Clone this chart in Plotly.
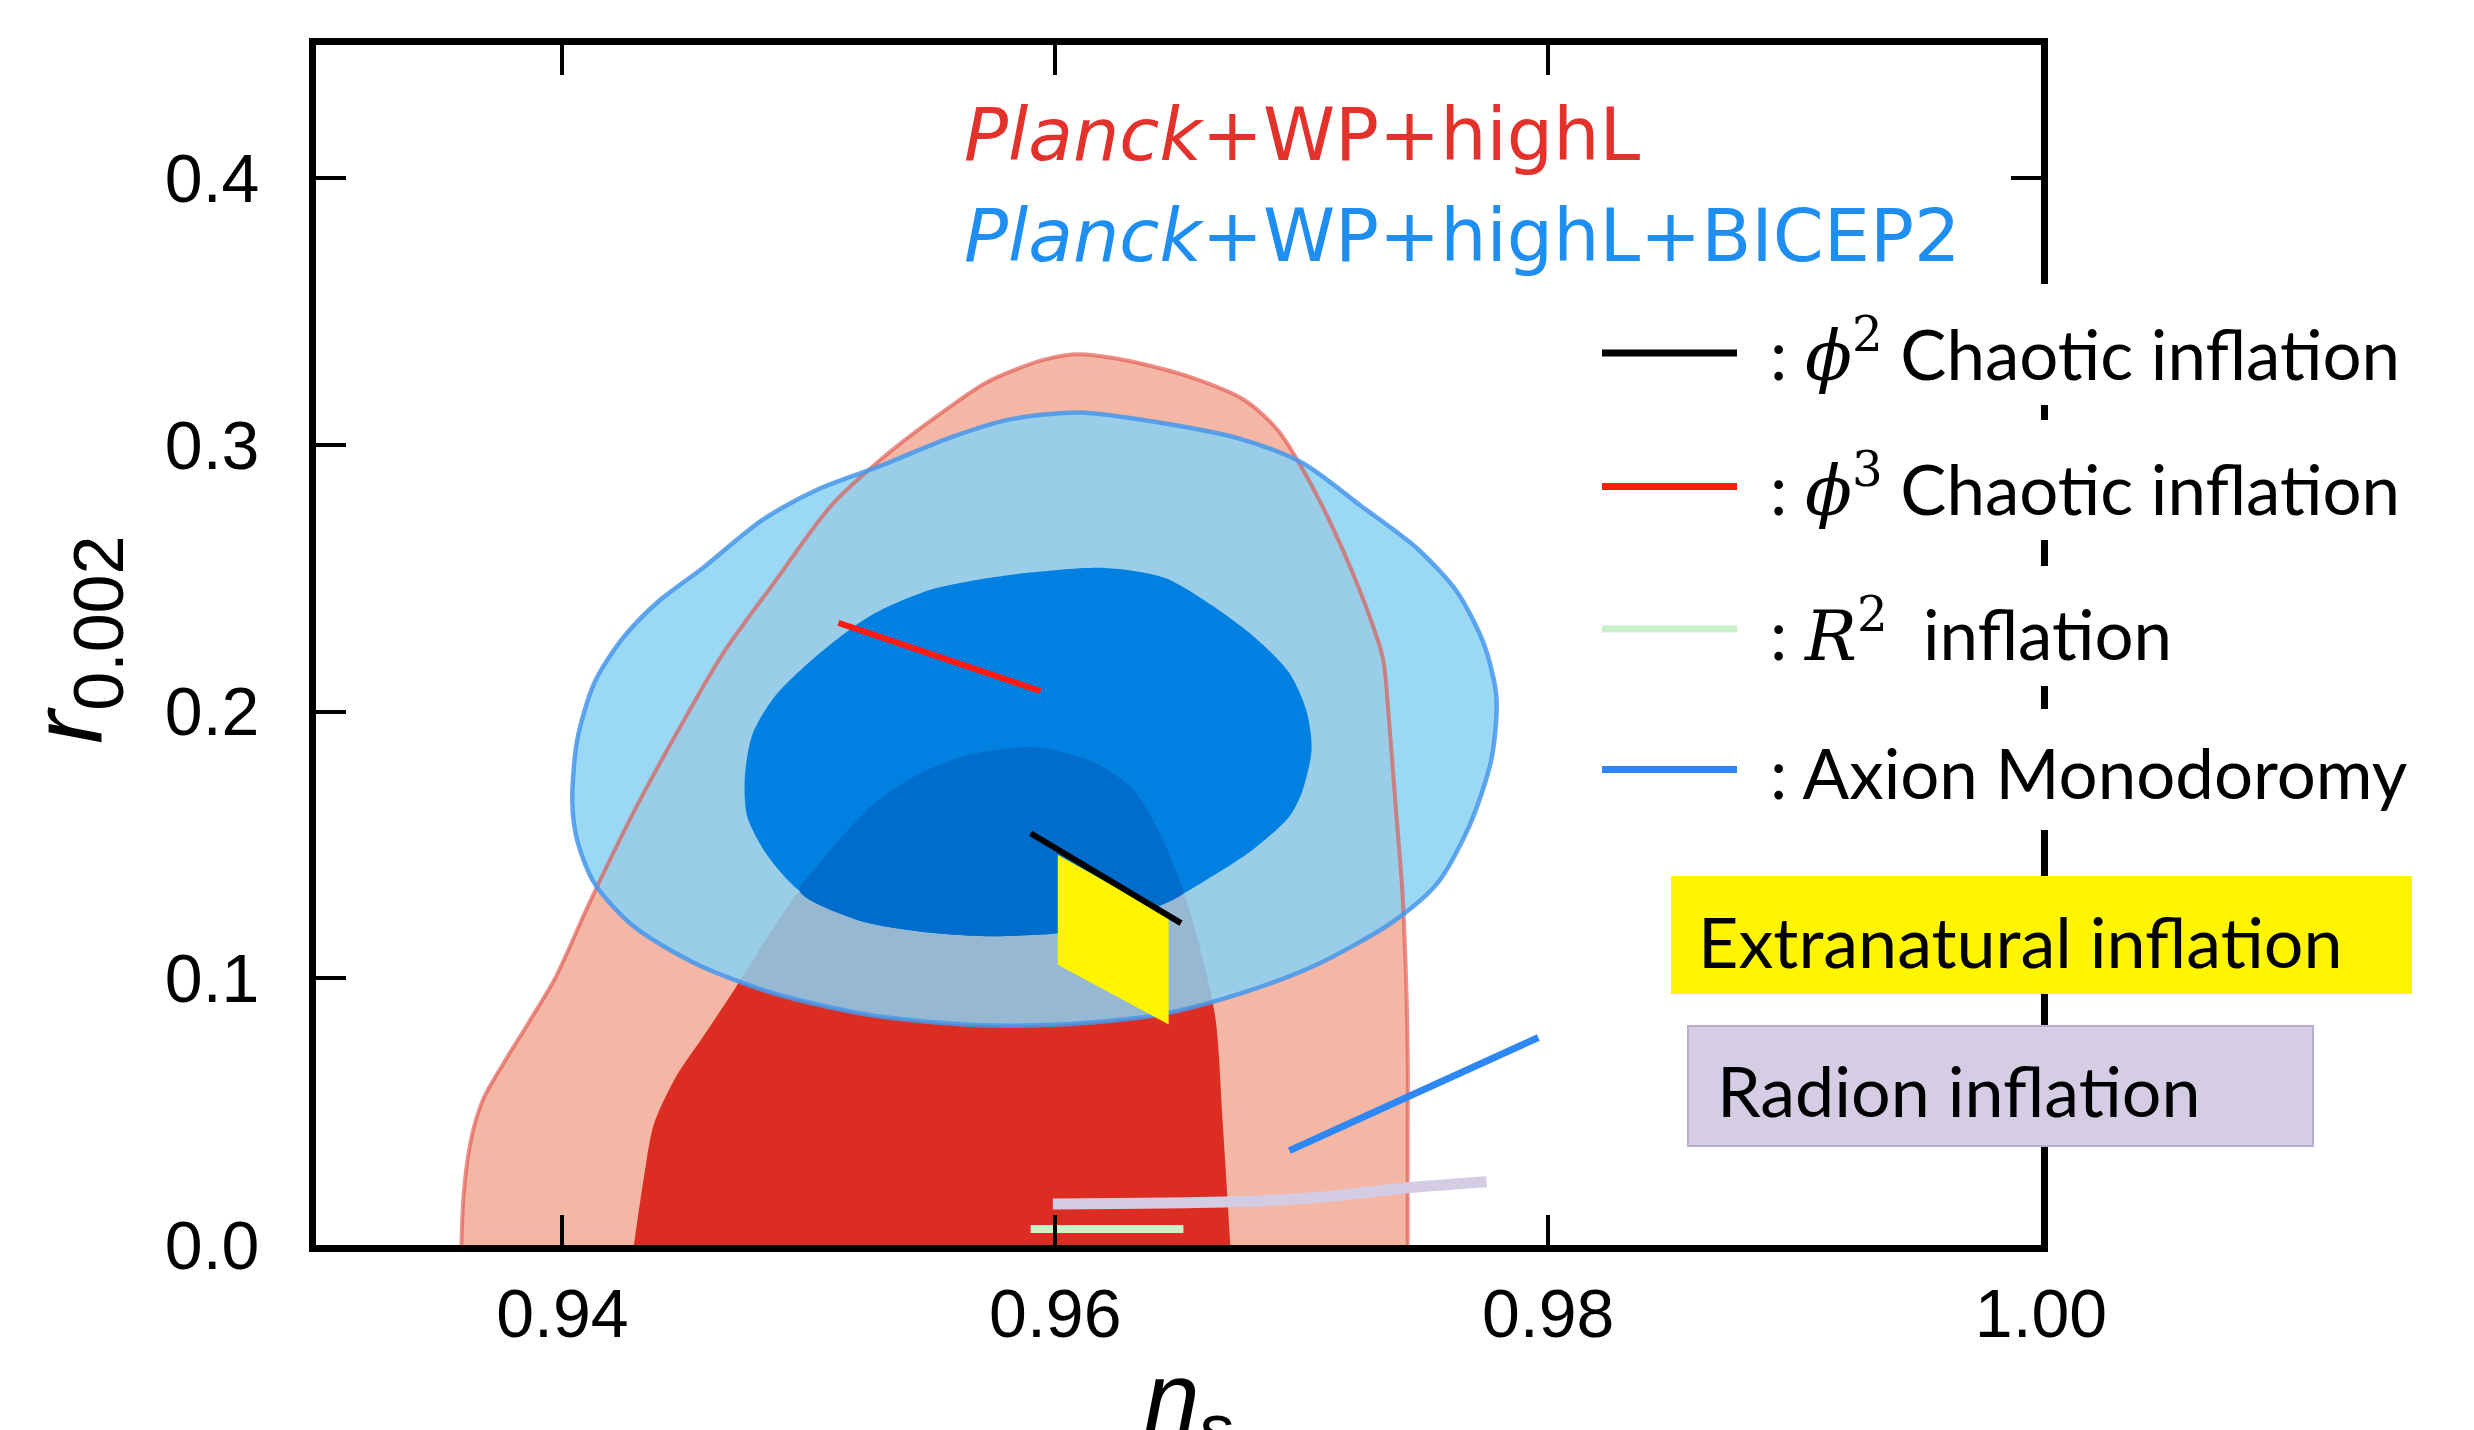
import plotly.graph_objects as go

# ---------------- data ----------------
x_ticks = [0.94, 0.96, 0.98, 1.00]
x_ticklabels = ["0.94", "0.96", "0.98", "1.00"]
y_ticks = [0.0, 0.1, 0.2, 0.3, 0.4]
y_ticklabels = ["0.0", "0.1", "0.2", "0.3", "0.4"]

# Planck+WP+highL 95% contour
red95_x = [0.9359, 0.9360, 0.9363, 0.9368, 0.9376, 0.9386, 0.9397, 0.9411, 0.9429, 0.9447, 0.9465,
           0.9486, 0.9509, 0.9530, 0.9550, 0.9571, 0.9585, 0.9596, 0.9608, 0.9628, 0.9654, 0.9677,
           0.9690, 0.9700, 0.9713, 0.9726, 0.9733, 0.9735, 0.9738, 0.9741, 0.9743, 0.9743, 0.9743]
red95_y = [0.0, 0.020, 0.040, 0.055, 0.068, 0.083, 0.100, 0.1284, 0.1625, 0.1930, 0.2216,
           0.2485, 0.2772, 0.2952, 0.3095, 0.3229, 0.3287, 0.3321, 0.3340, 0.3319, 0.3257, 0.3167,
           0.3059, 0.2916, 0.2682, 0.2396, 0.2198, 0.2019, 0.1661, 0.1302, 0.0732, 0.040, 0.0]

# Planck+WP+highL 68% contour
red68_x = [0.9429, 0.9433, 0.9437, 0.9446, 0.9457, 0.9470, 0.9486, 0.9504, 0.9525, 0.9545,
           0.9566, 0.9592, 0.9615, 0.9631, 0.9641, 0.9651, 0.9659, 0.9665, 0.9668, 0.9671]
red68_y = [0.0, 0.025, 0.045, 0.063, 0.078, 0.0961, 0.1194, 0.1427, 0.1643, 0.1768,
           0.1840, 0.1867, 0.1813, 0.1714, 0.1571, 0.1356, 0.1105, 0.085, 0.045, 0.0]

# Planck+WP+highL+BICEP2 95% contour
blue95_x = [0.9404, 0.9406, 0.9413, 0.9424, 0.9439, 0.9457, 0.9481, 0.9504, 0.9530, 0.9556,
            0.9581, 0.9610, 0.9641, 0.9675, 0.9700, 0.9724, 0.9747, 0.9763, 0.9774, 0.9779,
            0.9777, 0.9768, 0.9755, 0.9737, 0.9706, 0.9675, 0.9641, 0.9602, 0.9563, 0.9525,
            0.9486, 0.9455, 0.9429, 0.9413, 0.9406]
blue95_y = [0.1661, 0.1894, 0.2109, 0.2270, 0.2414, 0.2539, 0.2718, 0.2835, 0.2925, 0.3023,
            0.3095, 0.3122, 0.3086, 0.3023, 0.2934, 0.2772, 0.2611, 0.2450, 0.2252, 0.2055,
            0.1822, 0.1571, 0.1356, 0.1212, 0.1051, 0.0943, 0.0862, 0.0827, 0.0827, 0.0862,
            0.0943, 0.1051, 0.1194, 0.1356, 0.1517]

# Planck+WP+highL+BICEP2 68% contour
blue68_x = [0.9474, 0.9477, 0.9486, 0.9504, 0.9525, 0.9550, 0.9581, 0.9620, 0.9644, 0.9664,
            0.9682, 0.9695, 0.9702, 0.9704, 0.9700, 0.9695, 0.9680, 0.9659, 0.9641, 0.9615,
            0.9576, 0.9545, 0.9519, 0.9496, 0.9483, 0.9475]
blue68_y = [0.1750, 0.1912, 0.2055, 0.2216, 0.2360, 0.2459, 0.2512, 0.2539, 0.2503, 0.2396,
            0.2270, 0.2145, 0.2001, 0.1858, 0.1696, 0.1607, 0.1481, 0.1356, 0.1266, 0.1185,
            0.1158, 0.1176, 0.1221, 0.1329, 0.1463, 0.1607]

# model predictions
phi3_x = [0.9512, 0.9594]
phi3_y = [0.2333, 0.2077]
phi2_x = [0.9590, 0.9651]
phi2_y = [0.1544, 0.1207]
r2_x = [0.9590, 0.9652]
r2_y = [0.0060, 0.0060]
axion_x = [0.9695, 0.9796]
axion_y = [0.0354, 0.0778]
radion_x = [0.9599, 0.9671, 0.9710, 0.9741, 0.9775]
radion_y = [0.0154, 0.0162, 0.0181, 0.0213, 0.0237]
extranat_x = [0.9601, 0.9646, 0.9646, 0.9601]
extranat_y = [0.1463, 0.1230, 0.0827, 0.1051]

legend_labels = [
    ': <span style="font-family:DejaVu Serif"><i>ϕ</i><sup>2</sup></span> Chaotic inflation',
    ': <span style="font-family:DejaVu Serif"><i>ϕ</i><sup>3</sup></span> Chaotic inflation',
    ': <span style="font-family:DejaVu Serif"><i>R</i><sup>2</sup></span>  inflation',
    ': Axion Monodoromy',
]
legend_colors = ["#000000", "#ff1a12", "#c9efc6", "#2d87f5"]

# ---------------- helpers ----------------
W, H = 2474, 1430
OFF = 8  # default page body margin of the html page
ML, MR, MT, MB = 308, 441, 37, 193


def px(X):
    """screen pixel x -> paper coordinate"""
    return (X - OFF - ML) / (W - ML - MR)


def py(Y):
    """screen pixel y -> paper coordinate"""
    return (H - MB - (Y - OFF)) / (H - MT - MB)


def clip_polygon(subject, clipper):
    """Sutherland-Hodgman clip of subject polygon by (near) convex clipper."""
    def area(p):
        return sum(p[i][0] * p[(i + 1) % len(p)][1] - p[(i + 1) % len(p)][0] * p[i][1]
                   for i in range(len(p)))
    if area(clipper) < 0:
        clipper = clipper[::-1]
    out = list(subject)
    n = len(clipper)
    for i in range(n):
        A = clipper[i]
        B = clipper[(i + 1) % n]
        inp = out
        out = []
        if not inp:
            break

        def inside(P):
            return (B[0] - A[0]) * (P[1] - A[1]) - (B[1] - A[1]) * (P[0] - A[0]) >= 0

        def inter(S, E):
            x1, y1 = S
            x2, y2 = E
            x3, y3 = A
            x4, y4 = B
            den = (x1 - x2) * (y3 - y4) - (y1 - y2) * (x3 - x4)
            t = ((x1 - x3) * (y3 - y4) - (y1 - y3) * (x3 - x4)) / den
            return (x1 + t * (x2 - x1), y1 + t * (y2 - y1))

        S = inp[-1]
        for E in inp:
            if inside(E):
                if not inside(S):
                    out.append(inter(S, E))
                out.append(E)
            elif inside(S):
                out.append(inter(S, E))
            S = E
    return out


fig = go.Figure()


def add_fill(xs, ys, color, closed=True, shape="spline"):
    xx, yy = list(xs), list(ys)
    if closed:
        xx.append(xs[0])
        yy.append(ys[0])
    fig.add_trace(go.Scatter(x=xx, y=yy, mode="lines",
                             fill="toself", fillcolor=color,
                             line=dict(width=0, color="rgba(0,0,0,0)", shape=shape, smoothing=0.8),
                             hoverinfo="skip", showlegend=False))


def add_line(xs, ys, color, width, closed=False, shape="linear"):
    xx, yy = list(xs), list(ys)
    if closed:
        xx.append(xs[0])
        yy.append(ys[0])
    fig.add_trace(go.Scatter(x=xx, y=yy, mode="lines",
                             line=dict(color=color, width=width, shape=shape, smoothing=0.8),
                             hoverinfo="skip", showlegend=False))


# contours
add_fill(red95_x, red95_y, "#f5b7a5", closed=False)
add_fill(red68_x, red68_y, "#dc2d23", closed=False)
add_fill(blue95_x, blue95_y, "rgba(138,209,242,0.85)")
add_fill(blue68_x, blue68_y, "#0080e0")
inter_poly = clip_polygon(list(zip(red68_x, red68_y)), list(zip(blue68_x, blue68_y)))
if inter_poly:
    add_fill([p[0] for p in inter_poly], [p[1] for p in inter_poly], "#006ccc")
add_line(red95_x, red95_y, "rgba(225,85,75,0.65)", 4, shape="spline")
add_line(blue95_x, blue95_y, "rgba(70,150,235,0.85)", 4.5, closed=True, shape="spline")

# models
add_fill(extranat_x, extranat_y, "#fff500", shape="linear")
add_line(phi2_x, phi2_y, "#000000", 6)
add_line(phi3_x, phi3_y, "#ff1a12", 6)
add_line(axion_x, axion_y, "#2d87f5", 7)
add_line(radion_x, radion_y, "#d3cce3", 11, shape="spline")
add_line(r2_x, r2_y, "#cdf2c8", 8)

shapes = []
annotations = []

# left page edge strip
shapes.append(dict(type="rect", xref="paper", yref="paper", x0=px(0), x1=px(5), y0=py(H + 10), y1=py(0),
                   fillcolor="#e9e9e9", line=dict(width=0), layer="below"))

# white backgrounds of legend rows (hide the right spine there)
row_spans = [(284, 405), (420, 540), (566, 686), (709, 830)]
for (y0, y1) in row_spans:
    shapes.append(dict(type="rect", xref="paper", yref="paper", x0=px(1590), x1=px(2430),
                       y0=py(y1), y1=py(y0), fillcolor="white", line=dict(width=0), layer="above"))

# legend lines and labels
row_line_y = [353, 486.5, 629, 769.5]
row_text_y = [351, 485.5, 631, 772]
for i in range(4):
    shapes.append(dict(type="line", xref="paper", yref="paper", x0=px(1602), x1=px(1737),
                       y0=py(row_line_y[i]), y1=py(row_line_y[i]),
                       line=dict(color=legend_colors[i], width=7), layer="above"))
    annotations.append(dict(text=legend_labels[i], xref="paper", yref="paper",
                            x=px(1768), y=py(row_text_y[i]), xanchor="left", yanchor="middle",
                            showarrow=False, font=dict(family="Lato", size=69, color="black")))

# boxed labels
shapes.append(dict(type="rect", xref="paper", yref="paper", x0=px(1671), x1=px(2412),
                   y0=py(994), y1=py(876), fillcolor="#fff500", line=dict(width=0), layer="above"))
annotations.append(dict(text="Extranatural inflation", xref="paper", yref="paper",
                        x=px(1696), y=py(941), xanchor="left", yanchor="middle", showarrow=False,
                        font=dict(family="Lato", size=70, color="black")))
shapes.append(dict(type="rect", xref="paper", yref="paper", x0=px(1688), x1=px(2313),
                   y0=py(1146), y1=py(1026), fillcolor="#d5cde4",
                   line=dict(width=2, color="#b9abd4"), layer="above"))
annotations.append(dict(text="Radion inflation", xref="paper", yref="paper",
                        x=px(1715), y=py(1090), xanchor="left", yanchor="middle", showarrow=False,
                        font=dict(family="Lato", size=70, color="black")))

# dataset labels
annotations.append(dict(text="<i>Planck</i>+WP+highL", xref="paper", yref="paper",
                        x=px(962), y=py(134), xanchor="left", yanchor="middle", showarrow=False,
                        font=dict(family="DejaVu Sans", size=73, color="#e2322b")))
annotations.append(dict(text="<i>Planck</i>+WP+highL+BICEP2", xref="paper", yref="paper",
                        x=px(962), y=py(235), xanchor="left", yanchor="middle", showarrow=False,
                        font=dict(family="DejaVu Sans", size=73, color="#1f8ef1")))

# axis titles
annotations.append(dict(text="<i>r</i><sub>0.002</sub>", xref="paper", yref="paper",
                        x=px(74), y=py(640), xanchor="center", yanchor="middle", textangle=-90,
                        showarrow=False, font=dict(family="Liberation Sans", size=100, color="black")))
annotations.append(dict(text="<i>n</i><sub>s</sub>", xref="paper", yref="paper",
                        x=px(1142), y=py(1339), xanchor="left", yanchor="top",
                        showarrow=False, font=dict(family="Liberation Sans", size=100, color="black")))

axis_common = dict(showgrid=False, zeroline=False, showline=True, linewidth=7, linecolor="black",
                   mirror="ticks", ticks="inside", ticklen=30, tickwidth=4, tickcolor="black",
                   tickfont=dict(family="Liberation Sans", size=68, color="black"))

fig.update_layout(
    width=W, height=H,
    margin=dict(l=ML, r=MR, t=MT, b=MB, pad=0),
    paper_bgcolor="white", plot_bgcolor="white",
    showlegend=False, hovermode=False,
    xaxis=dict(range=[0.93, 1.00], tickvals=x_ticks, ticktext=x_ticklabels,
               ticklabelstandoff=3, **axis_common),
    yaxis=dict(range=[0.0, 0.45], tickvals=y_ticks, ticktext=y_ticklabels,
               ticklabelstandoff=36, **axis_common),
    shapes=shapes, annotations=annotations,
)

fig.write_html("out.html")
